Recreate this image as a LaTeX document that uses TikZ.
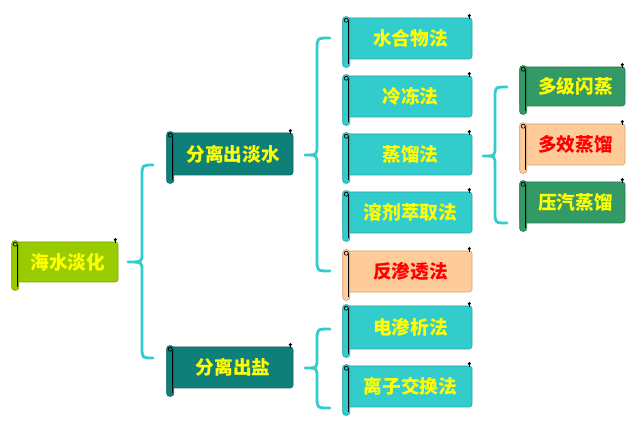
\documentclass[tikz,border=0pt]{standalone}
\usepackage{fontspec}
\newfontfamily\cjk{Noto Sans CJK SC}
\usetikzlibrary{fit,calc}
\definecolor{cLime}{HTML}{99CC00}
\definecolor{cTeal}{HTML}{0F7F7A}
\definecolor{cTurq}{HTML}{33CCCC}
\definecolor{cPeach}{HTML}{FFCC99}
\definecolor{cSea}{HTML}{339966}
\definecolor{cY}{HTML}{FFFF00}
\definecolor{cR}{HTML}{FF0000}
\tikzset{
  box/.style={inner sep=0pt, rounded corners=2pt, line width=0.4pt},
  boxtext/.style={inner sep=0pt, font=\cjk\bfseries\fontsize{14pt}{16pt}\selectfont},
  brace/.style={draw=cTurq, line width=2.1pt, line cap=round, line join=round},
}
% name, x1, y1, x2, y2, fill, text colour, text
\newcommand\scrollnode[8]{%
  \node[box, fill=#6, draw=#6!80!black, fit={(#2,#3) (#4,#5)}] (#1box) {};
  \filldraw[fill=#6, draw=#6!80!black, line width=0.4pt, rounded corners=2pt]
    ($(#1box.north west)+(0,-1)$) rectangle ($(#1box.south west)+(7,8)$);
  \draw[black, line width=0.6pt] ($(#1box.north west)+(6,4)$) -- ($(#1box.south west)+(6,5)$);
  \draw[black, line width=0.5pt] ($(#1box.north west)+(3.5,2.5)$) circle (1.5pt);
  \draw[black, line width=0.5pt] ($(#1box.north west)+(5.5,2.5)$) -- ($(#1box.north west)+(6,4)$);
  \fill[black] ($(#1box.north east)+(-3,-2)$) circle (1.3pt);
  \draw[black, line width=0.5pt] ($(#1box.north east)+(-3,-2)$) -- ($(#1box.north east)+(-3,1)$);
  \node[boxtext, text=#7] (#1) at ($(#1box.center)+(3,0)$) {#8};
}
% xl, xm, xr, top, tip, bottom
\newcommand\bracepath[6]{%
  \draw[brace] (#3,#4) .. controls (#2,#4) .. (#2,{#4+11}) -- (#2,{#5-9})
    .. controls (#2,#5) .. (#1,#5) .. controls (#2,#5) .. (#2,{#5+9})
    -- (#2,{#6-11}) .. controls (#2,#6) .. (#3,#6);
}
\begin{document}
\begin{tikzpicture}[x=0.75pt,y=-0.75pt]
\fill[white] (0,0) rectangle (643,427);
\useasboundingbox (0,0) rectangle (643,427);

\scrollnode{root}{12}{242}{118}{282}{cLime}{cY}{海水淡化}
\scrollnode{fresh}{167}{133}{293}{175}{cTeal}{cY}{分离出淡水}
\scrollnode{salt}{167}{347}{293}{388}{cTeal}{cY}{分离出盐}

\scrollnode{m1}{343}{18}{472}{59}{cTurq}{cY}{水合物法}
\scrollnode{m2}{343}{76}{472}{117}{cTurq}{cY}{冷冻法}
\scrollnode{m3}{343}{134}{472}{175}{cTurq}{cY}{蒸馏法}
\scrollnode{m4}{343}{192}{472}{233}{cTurq}{cY}{溶剂萃取法}
\scrollnode{m5}{343}{251}{472}{292}{cPeach}{cR}{反渗透法}
\scrollnode{m6}{343}{306}{472}{349}{cTurq}{cY}{电渗析法}
\scrollnode{m7}{343}{366}{472}{407}{cTurq}{cY}{离子交换法}

\scrollnode{d1}{520}{67}{625}{106}{cSea}{cY}{多级闪蒸}
\scrollnode{d2}{520}{124}{625}{165}{cPeach}{cR}{多效蒸馏}
\scrollnode{d3}{520}{182}{625}{223}{cSea}{cY}{压汽蒸馏}

\bracepath{128}{142}{153}{165}{262}{358}
\bracepath{305}{317}{330}{38}{155}{271}
\bracepath{305}{317}{330}{329}{368}{408}
\bracepath{483}{495}{507}{87}{156}{223}
\end{tikzpicture}
\end{document}
